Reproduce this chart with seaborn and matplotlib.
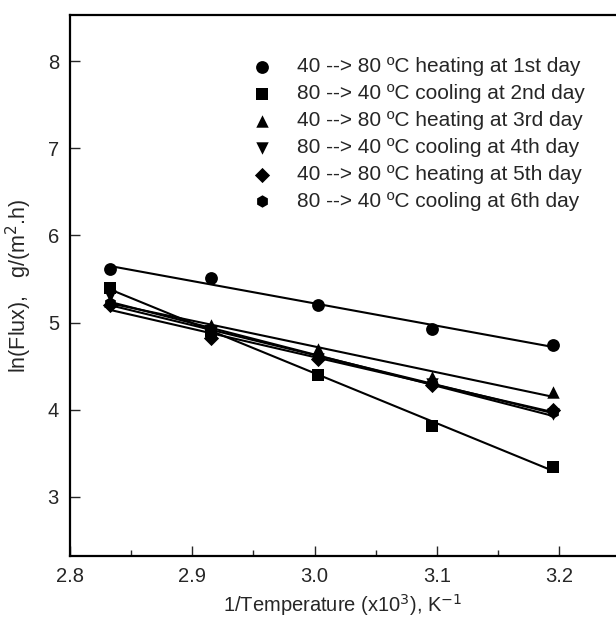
import matplotlib
matplotlib.use("Agg")
import matplotlib.pyplot as plt
import seaborn as sns
import numpy as np
import pandas as pd
from matplotlib.ticker import MultipleLocator

# Data
inv_temp = [2.833, 2.915, 3.003, 3.096, 3.195]
day1 = [5.61, 5.51, 5.20, 4.93, 4.74]
day2 = [5.40, 4.90, 4.40, 3.81, 3.34]
day3 = [5.25, 4.97, 4.70, 4.38, 4.20]
day4 = [5.30, 4.88, 4.58, 4.30, 3.95]
day5 = [5.20, 4.82, 4.58, 4.28, 4.00]
day6 = [5.22, 4.90, 4.60, 4.30, 3.97]
labels = ["40 --> 80 \u00baC heating at 1st day",
          "80 --> 40 \u00baC cooling at 2nd day",
          "40 --> 80 \u00baC heating at 3rd day",
          "80 --> 40 \u00baC cooling at 4th day",
          "40 --> 80 \u00baC heating at 5th day",
          "80 --> 40 \u00baC cooling at 6th day"]
markers = ["o", "s", "^", "v", "D", "h"]
series = [day1, day2, day3, day4, day5, day6]

sns.set_style("ticks")
plt.rcParams['font.family'] = ['Liberation Sans', 'DejaVu Sans']

fig = plt.figure(figsize=(6.16, 6.28), dpi=100)
ax = fig.add_axes([70/616, 1-556/628, 1-70/616, (556-15)/628])

sizes = [85, 75, 80, 80, 60, 80]
for ys, lab, m, s in zip(series, labels, markers, sizes):
    df = pd.DataFrame({"x": inv_temp, "y": ys})
    sns.regplot(data=df, x="x", y="y", ax=ax, ci=None, marker=m, color="black",
                label=lab, scatter_kws={"s": s, "edgecolor": "black", "linewidths": 0, "alpha": 1},
                line_kws={"lw": 1.5, "color": "black"})

ax.set_xlim(2.8, 3.2465)
ax.set_ylim(2.32, 8.53)
ax.xaxis.set_major_locator(MultipleLocator(0.1))
ax.xaxis.set_minor_locator(MultipleLocator(0.05))
ax.yaxis.set_major_locator(MultipleLocator(1))
ax.set_xticks([2.8, 2.9, 3.0, 3.1, 3.2])
ax.set_xticklabels(["2.8", "2.9", "3.0", "3.1", "3.2"])
ax.tick_params(axis="both", which="major", direction="in", length=7, width=1, labelsize=14.5, pad=8)
ax.tick_params(axis="both", which="minor", direction="in", length=4, width=1)
for side in ["left", "bottom", "top"]:
    ax.spines[side].set_linewidth(1.6)
    ax.spines[side].set_color("black")
ax.spines["right"].set_visible(False)

ax.set_xlabel("1/Temperature (x10$^3$), K$^{-1}$", fontsize=14.5, labelpad=4)
ax.set_ylabel("ln(Flux),   g/(m$^2$.h)", fontsize=15.5, labelpad=10)

leg = ax.legend(loc="upper left", bbox_to_anchor=(171/546, 1-34/541), frameon=False,
                fontsize=15, handletextpad=1.08, labelspacing=0.38, borderaxespad=0,
                handlelength=1.2)

fig.savefig("out.png", dpi=100)
